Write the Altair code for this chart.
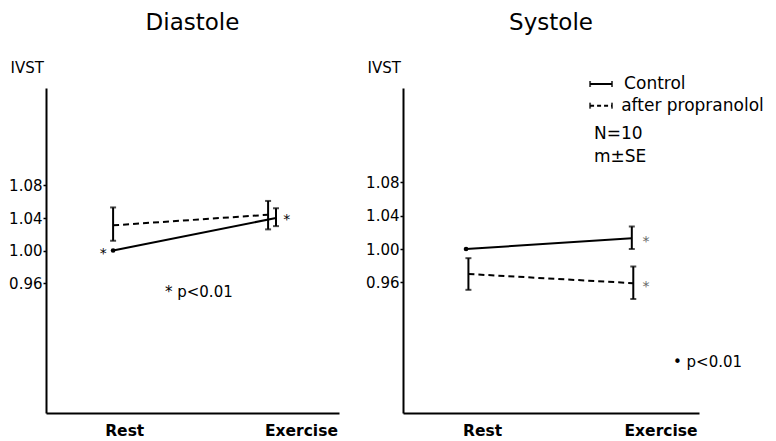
import altair as alt
import pandas as pd

FONT = "DejaVu Sans"

phases = ["Rest", "Exercise"]
groups = ["Control", "after propranolol"]
y_ticks = [0.96, 1.00, 1.04, 1.08]
x_label_pos = [0.267, 0.87]

# ---- Diastole ----
dia_x = {"Control": [0.229, 0.785], "after propranolol": [0.229, 0.758]}
dia_mean = {"Control": [1.000, 1.040], "after propranolol": [1.031, 1.044]}
dia_lo = {"Control": [None, 1.030], "after propranolol": [1.012, 1.026]}
dia_hi = {"Control": [None, 1.052], "after propranolol": [1.053, 1.061]}
dia_star_x = [0.195, 0.822]
dia_star_y = [1.000, 1.041]
dia_note = ["* p<0.01"]
dia_note_x = [0.406]
dia_note_y = [0.949]

# ---- Systole ----
sys_x = {"Control": [0.213, 0.773], "after propranolol": [0.221, 0.778]}
sys_mean = {"Control": [1.000, 1.013], "after propranolol": [0.970, 0.959]}
sys_lo = {"Control": [None, 1.000], "after propranolol": [0.951, 0.940]}
sys_hi = {"Control": [None, 1.027], "after propranolol": [0.989, 0.979]}
sys_star_x = [0.821, 0.821]
sys_star_y = [1.012, 0.958]
sys_note = ["• p<0.01"]
sys_note_x = [0.912]
sys_note_y = [0.864]

# legend (drawn in the Systole panel)
leg_labels = ["Control", "after propranolol"]
leg_x0 = [0.632, 0.632]
leg_x1 = [0.706, 0.706]
leg_y = [1.198, 1.172]
leg_text_x = [0.747, 0.737]
info_text = ["N=10", "m±SE"]
info_x = [0.645, 0.645]
info_y = [1.138, 1.1105]


def build_df(xs, means, los, his):
    rows = []
    for g in groups:
        for i, p in enumerate(phases):
            rows.append({"group": g, "phase": p, "x": xs[g][i], "mean": means[g][i],
                         "lo": los[g][i], "hi": his[g][i]})
    return pd.DataFrame(rows)


def panel(title, df, star_x, star_y, star_color, note, note_x, note_y, domain, width, legend=False):
    xs = alt.Scale(domain=[0, 1])
    ys = alt.Scale(domain=domain)
    label_expr = "datum.value < 0.5 ? '%s' : '%s'" % (phases[0], phases[1])
    xenc = alt.X("x:Q", scale=xs, axis=alt.Axis(values=x_label_pos, labelExpr=label_expr, ticks=False,
                                                 grid=False, labelFont=FONT, labelFontSize=15.5,
                                                 labelFontWeight="bold", labelPadding=10, title=None,
                                                 labelFlush=False, domainColor="black", domainWidth=2,
                                                 labelColor="black"))
    yaxis = alt.Axis(values=y_ticks, format=".2f", tickSize=3, labelPadding=1, labelFont=FONT,
                     labelFontSize=15, title="IVST", titleAngle=0, titleAlign="left",
                     titleBaseline="middle", titleX=-36, titleY=-21, titleFont=FONT,
                     titleFontSize=15, titleFontWeight="normal", labelFlush=False, grid=False,
                     domainColor="black", domainWidth=2, tickColor="black", tickWidth=1.5,
                     labelColor="black", titleColor="black")
    yenc = alt.Y("mean:Q", scale=ys, axis=yaxis)

    ctrl = df[df.group == groups[0]]
    prop = df[df.group == groups[1]]
    bars = df.dropna(subset=["lo"])

    line_c = alt.Chart(ctrl).mark_line(color="black", strokeWidth=2).encode(x=xenc, y=yenc)
    line_p = alt.Chart(prop).mark_line(color="black", strokeWidth=2, strokeDash=[6, 4]).encode(x=xenc, y=yenc)
    dot = alt.Chart(df[df.lo.isna()]).mark_circle(color="black", size=22, opacity=1).encode(
        x=alt.X("x:Q", scale=xs), y=alt.Y("mean:Q", scale=ys))
    err = alt.Chart(bars).mark_rule(color="black", strokeWidth=2).encode(
        x=alt.X("x:Q", scale=xs), y=alt.Y("lo:Q", scale=ys), y2="hi:Q")
    cap_lo = alt.Chart(bars).mark_tick(color="black", orient="horizontal", size=6, thickness=2).encode(
        x=alt.X("x:Q", scale=xs), y=alt.Y("lo:Q", scale=ys))
    cap_hi = alt.Chart(bars).mark_tick(color="black", orient="horizontal", size=6, thickness=2).encode(
        x=alt.X("x:Q", scale=xs), y=alt.Y("hi:Q", scale=ys))
    stars = alt.Chart(pd.DataFrame({"x": star_x, "y": star_y, "t": ["*"] * len(star_x)})).mark_text(
        font=FONT, fontSize=14, color=star_color, align="center", baseline="middle", dy=3).encode(
        x=alt.X("x:Q", scale=xs), y=alt.Y("y:Q", scale=ys), text="t:N")
    notes = alt.Chart(pd.DataFrame({"x": note_x, "y": note_y, "t": note})).mark_text(
        font=FONT, fontSize=15, color="black", align="left", baseline="middle").encode(
        x=alt.X("x:Q", scale=xs), y=alt.Y("y:Q", scale=ys), text="t:N")

    layers = [line_c, line_p, err, cap_lo, cap_hi, dot, stars, notes]

    if legend:
        ldf = pd.DataFrame({"label": leg_labels, "x0": leg_x0, "x1": leg_x1, "y": leg_y,
                            "tx": leg_text_x, "dash": ["solid", "dashed"]})
        lrule = alt.Chart(ldf).mark_rule(color="black", strokeWidth=2).encode(
            x=alt.X("x0:Q", scale=xs), x2="x1:Q", y=alt.Y("y:Q", scale=ys),
            strokeDash=alt.StrokeDash("dash:N", scale=alt.Scale(domain=["solid", "dashed"],
                                                                 range=[[1, 0], [4, 3]]), legend=None))
        lcap0 = alt.Chart(ldf).mark_tick(color="black", orient="vertical", size=6, thickness=2).encode(
            x=alt.X("x0:Q", scale=xs), y=alt.Y("y:Q", scale=ys))
        lcap1 = alt.Chart(ldf).mark_tick(color="black", orient="vertical", size=6, thickness=2).encode(
            x=alt.X("x1:Q", scale=xs), y=alt.Y("y:Q", scale=ys))
        ltext = alt.Chart(ldf).mark_text(font=FONT, fontSize=17, color="black", align="left",
                                         baseline="middle").encode(
            x=alt.X("tx:Q", scale=xs), y=alt.Y("y:Q", scale=ys), text="label:N")
        itext = alt.Chart(pd.DataFrame({"x": info_x, "y": info_y, "t": info_text})).mark_text(
            font=FONT, fontSize=17, color="black", align="left", baseline="middle").encode(
            x=alt.X("x:Q", scale=xs), y=alt.Y("y:Q", scale=ys), text="t:N")
        layers += [lrule, lcap0, lcap1, ltext, itext]

    return alt.layer(*layers).properties(
        width=width, height=325,
        title=alt.TitleParams(title, font=FONT, fontSize=23, fontWeight="normal", anchor="middle",
                              frame="group", offset=25, color="black"))


dia_df = build_df(dia_x, dia_mean, dia_lo, dia_hi)
sys_df = build_df(sys_x, sys_mean, sys_lo, sys_hi)

left = panel("Diastole", dia_df, dia_star_x, dia_star_y, "black", dia_note, dia_note_x, dia_note_y,
             [0.80, 1.20], 293)
right = panel("Systole", sys_df, sys_star_x, sys_star_y, "#666666", sys_note, sys_note_x, sys_note_y,
              [0.8032, 1.1932], 296, legend=True)

chart = alt.hconcat(left, right, spacing=26).properties(
    padding={"left": 0, "top": 4, "right": 0, "bottom": 0},
    background="white"
).configure_view(stroke=None).configure_axis(
    grid=False, domainColor="black", domainWidth=2, tickColor="black", tickWidth=1.5,
    labelColor="black", titleColor="black"
)

chart.save("out.html", embed_options={"renderer": "svg", "actions": False})
